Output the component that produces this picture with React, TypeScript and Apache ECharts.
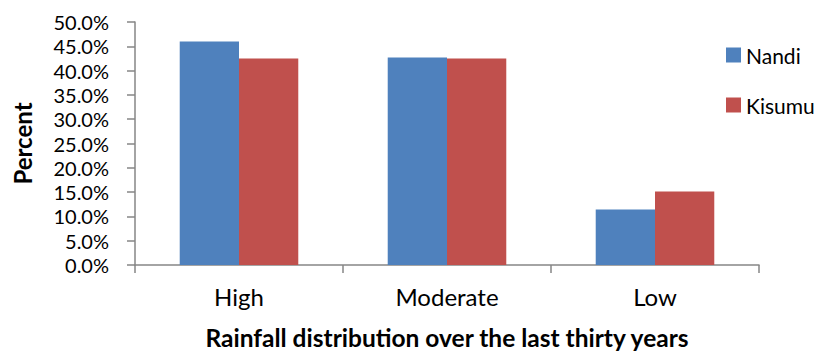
import React, { useEffect, useRef } from "react";
import * as echarts from "echarts";

const categories = ["High", "Moderate", "Low"];
const nandi = [46.0, 42.7, 11.4];
const kisumu = [42.5, 42.5, 15.1];
const seriesNames = ["Nandi", "Kisumu"];
const yTicks = { min: 0, max: 50, interval: 5 };

const FONT = "Lato, 'Liberation Sans', sans-serif";

export default function App() {
  const ref = useRef<HTMLDivElement>(null);
  useEffect(() => {
    if (!ref.current) return;
    const chart = echarts.init(ref.current, null, { renderer: "svg" });
    chart.setOption({
      animation: false,
      backgroundColor: "#ffffff",
      textStyle: { fontFamily: FONT },
      grid: { left: 135, right: 61, top: 22, bottom: 87.5, containLabel: false },
      legend: {
        orient: "vertical",
        left: 721,
        top: 38,
        itemWidth: 15,
        itemHeight: 15,
        itemGap: 26,
        itemTextGap: 6,
        icon: "rect",
        data: seriesNames,
        textStyle: { fontFamily: FONT, fontSize: 21, lineHeight: 24, color: "#000" },
      },
      xAxis: {
        type: "category",
        data: categories,
        name: "Rainfall distribution over the last thirty years",
        nameLocation: "middle",
        nameGap: 60,
        nameTextStyle: { fontFamily: FONT, fontSize: 24.5, fontWeight: "bold", color: "#000" },
        axisLine: { lineStyle: { color: "#868686", width: 1.5 } },
        axisTick: { show: true, length: 8, lineStyle: { color: "#868686", width: 1.5 } },
        axisLabel: { fontFamily: FONT, fontSize: 24, color: "#000", margin: 19 },
      },
      yAxis: {
        type: "value",
        min: yTicks.min,
        max: yTicks.max,
        interval: yTicks.interval,
        name: "Percent",
        nameLocation: "middle",
        nameRotate: 90,
        nameGap: 101,
        nameTextStyle: { fontFamily: FONT, fontSize: 24, fontWeight: "bold", color: "#000" },
        splitLine: { show: false },
        axisLine: { show: true, lineStyle: { color: "#868686", width: 1.5 } },
        axisTick: { show: true, length: 8, lineStyle: { color: "#868686", width: 1.5 } },
        axisLabel: {
          fontFamily: FONT,
          fontSize: 20,
          lineHeight: 20,
          color: "#000",
          margin: 26,
          formatter: (v: number) => v.toFixed(1) + "%",
        },
      },
      series: [
        {
          name: seriesNames[0],
          type: "bar",
          data: nandi,
          barGap: "0%",
          barCategoryGap: "43%",
          itemStyle: { color: "#4F81BD" },
        },
        {
          name: seriesNames[1],
          type: "bar",
          data: kisumu,
          barGap: "0%",
          barCategoryGap: "43%",
          itemStyle: { color: "#C0504D" },
        },
      ],
    });
    return () => chart.dispose();
  }, []);
  return (
    <div
      ref={ref}
      style={{ position: "fixed", left: 0, top: 0, width: 820, height: 355 }}
    />
  );
}
